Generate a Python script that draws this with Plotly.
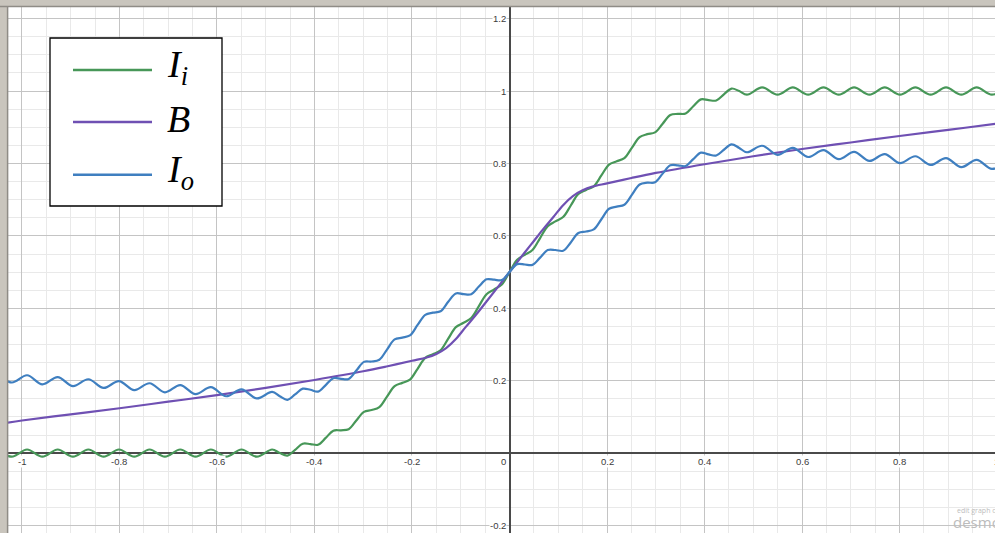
import plotly.graph_objects as go

# ---------------- data ----------------
# sample positions along x (peaks / troughs / crossings of the ripples)
x_wave = [-1.0524, -1.0210, -0.9896, -0.9582, -0.9268, -0.8954, -0.8639, -0.8325, -0.8011, -0.7697,
          -0.7383, -0.7069, -0.6754, -0.6440, -0.6126, -0.5812, -0.5498, -0.5184, -0.4869,
          -0.4712, -0.4555, -0.4398, -0.4241, -0.4084, -0.3927, -0.3770, -0.3613, -0.3456, -0.3299,
          -0.3142, -0.2985, -0.2827, -0.2670, -0.2513, -0.2356, -0.2199, -0.2042, -0.1885, -0.1728,
          -0.1571, -0.1414, -0.1257, -0.1100, -0.0942, -0.0785, -0.0628, -0.0471, -0.0314, -0.0157,
          0.0,
          0.0157, 0.0314, 0.0471, 0.0628, 0.0785, 0.0942, 0.1100, 0.1257, 0.1414, 0.1571,
          0.1728, 0.1885, 0.2042, 0.2199, 0.2356, 0.2513, 0.2670, 0.2827, 0.2985, 0.3142,
          0.3299, 0.3456, 0.3613, 0.3770, 0.3927, 0.4084, 0.4241, 0.4398, 0.4555, 0.4712,
          0.4869, 0.5184, 0.5498, 0.5812, 0.6126, 0.6440, 0.6754, 0.7069, 0.7383, 0.7697,
          0.8011, 0.8325, 0.8639, 0.8954, 0.9268, 0.9582, 0.9896, 1.0210]

I_i = [0.010, -0.010, 0.010, -0.010, 0.010, -0.010, 0.010, -0.010, 0.010, -0.010,
       0.010, -0.010, 0.010, -0.010, 0.010, -0.010, 0.010, -0.010, 0.010,
       0.000, -0.007, 0.009, 0.026, 0.025, 0.023, 0.042, 0.062, 0.063, 0.066,
       0.090, 0.114, 0.119, 0.127, 0.156, 0.185, 0.194, 0.203, 0.233, 0.263,
       0.273, 0.284, 0.316, 0.348, 0.360, 0.373, 0.406, 0.439, 0.452, 0.466,
       0.500,
       0.534, 0.548, 0.561, 0.594, 0.627, 0.640, 0.652, 0.684, 0.716, 0.727,
       0.737, 0.767, 0.797, 0.806, 0.815, 0.844, 0.873, 0.881, 0.886, 0.910,
       0.934, 0.937, 0.938, 0.958, 0.977, 0.975, 0.974, 0.991, 1.007, 1.000,
       0.990, 1.010, 0.990, 1.010, 0.990, 1.010, 0.990, 1.010, 0.990, 1.010,
       0.990, 1.010, 0.990, 1.010, 0.990, 1.010, 0.990, 1.010]

I_o = [0.220, 0.195, 0.215, 0.190, 0.210, 0.185, 0.204, 0.180, 0.199, 0.174,
       0.193, 0.168, 0.188, 0.163, 0.182, 0.157, 0.176, 0.151, 0.169,
       0.157, 0.147, 0.162, 0.178, 0.175, 0.170, 0.188, 0.207, 0.205, 0.205,
       0.228, 0.252, 0.253, 0.258, 0.286, 0.314, 0.319, 0.325, 0.354, 0.382,
       0.388, 0.392, 0.418, 0.441, 0.439, 0.439, 0.460, 0.480, 0.479, 0.478,
       0.500,
       0.522, 0.521, 0.520, 0.540, 0.561, 0.561, 0.559, 0.582, 0.608, 0.612,
       0.618, 0.646, 0.675, 0.681, 0.686, 0.714, 0.742, 0.747, 0.748, 0.772,
       0.795, 0.795, 0.793, 0.812, 0.830, 0.825, 0.822, 0.838, 0.853, 0.843,
       0.831, 0.849, 0.824, 0.843, 0.818, 0.837, 0.812, 0.832, 0.807, 0.826,
       0.801, 0.820, 0.796, 0.815, 0.790, 0.810, 0.785, 0.805]

x_B = [-1.05, -1.0, -0.9, -0.8, -0.7, -0.6, -0.5, -0.4, -0.3, -0.25, -0.2, -0.17, -0.15, -0.13,
       -0.11, -0.09, -0.07, -0.05, -0.03, -0.015, 0.0, 0.015, 0.03, 0.05, 0.07, 0.09, 0.11,
       0.13, 0.15, 0.17, 0.2, 0.25, 0.3, 0.4, 0.5, 0.6, 0.7, 0.8, 0.9, 1.0, 1.05]
B = [0.080, 0.090, 0.107, 0.124, 0.142, 0.160, 0.180, 0.202, 0.226, 0.240, 0.255, 0.264, 0.274, 0.290,
     0.315, 0.348, 0.380, 0.414, 0.448, 0.474, 0.500, 0.526, 0.552, 0.586, 0.620, 0.652, 0.685,
     0.710, 0.726, 0.736, 0.745, 0.760, 0.774, 0.798, 0.820, 0.840, 0.858, 0.876, 0.893, 0.910, 0.920]

x_tick_vals = [-1, -0.8, -0.6, -0.4, -0.2, 0.2, 0.4, 0.6, 0.8]
x_tick_text = ["-1", "-0.8", "-0.6", "-0.4", "-0.2", "0.2", "0.4", "0.6", "0.8"]
y_tick_vals = [-0.2, 0.2, 0.4, 0.6, 0.8, 1, 1.2]
y_tick_text = ["-0.2", "0.2", "0.4", "0.6", "0.8", "1", "1.2"]

legend_labels = ["<i>I<sub>i</sub></i>", "<i>B</i>", "<i>I<sub>o</sub></i>"]

# ---------------- styling ----------------
GREEN, PURPLE, BLUE = "#479758", "#6f50b3", "#3f7fc0"
W, H = 995, 533
ML, MT = 8, 7
XR = [-1.0287, 0.9959]
YR = [-0.2207, 1.2323]
PW, PH = W - ML, H - MT


def px(xp):
    return (xp - ML) / PW


def py(yp):
    return (H - yp) / PH


fig = go.Figure()
for xs, ys, col, nm in [(x_wave, I_i, GREEN, "I_i"), (x_B, B, PURPLE, "B"), (x_wave, I_o, BLUE, "I_o")]:
    fig.add_trace(go.Scatter(x=xs, y=ys, mode="lines", name=nm, showlegend=False, hoverinfo="skip",
                             line=dict(color=col, width=2.2, shape="spline", smoothing=1.0)))

axis_common = dict(showgrid=True, gridcolor="#c4c4c4", gridwidth=1, dtick=0.2, tick0=0,
                   minor=dict(dtick=0.05, tick0=0, showgrid=True, gridcolor="#e9e9e9", gridwidth=1),
                   zeroline=True, zerolinecolor="#4a4a4a", zerolinewidth=1.6,
                   showticklabels=False, ticks="", showline=False, fixedrange=True)

fig.update_layout(
    width=W, height=H,
    margin=dict(l=ML, t=MT, r=0, b=0, pad=0),
    paper_bgcolor="#c9c5bd", plot_bgcolor="white",
    xaxis=dict(range=XR, **axis_common),
    yaxis=dict(range=YR, **axis_common),
    showlegend=False,
)

annotations = []
lab_font = dict(family="Liberation Sans, Arial", size=9.5, color="#3c3c3c")
for v, t in zip(x_tick_vals, x_tick_text):
    annotations.append(dict(x=v, y=0, xref="x", yref="y", text=t, showarrow=False, font=lab_font,
                            xanchor="center", yanchor="top", yshift=-2, bgcolor="white", borderpad=0))
annotations.append(dict(x=0.99, y=0, xref="x", yref="y", text="1", showarrow=False, font=lab_font,
                        xanchor="center", yanchor="top", yshift=-2, xshift=4, bgcolor="white", borderpad=0))
annotations.append(dict(x=0, y=0, xref="x", yref="y", text="0", showarrow=False, font=lab_font,
                        xanchor="right", yanchor="top", yshift=-2, xshift=-3, bgcolor="white", borderpad=0))
for v, t in zip(y_tick_vals, y_tick_text):
    annotations.append(dict(x=0, y=v, xref="x", yref="y", text=t, showarrow=False, font=lab_font,
                            xanchor="right", yanchor="middle", xshift=-3, bgcolor="white", borderpad=0))

# legend box (drawn)
shapes = [
    dict(type="rect", xref="paper", yref="paper", x0=px(50), x1=px(222), y0=py(206), y1=py(38),
         fillcolor="white", line=dict(color="black", width=1.3), layer="above"),
]
leg_y = [70, 122, 174.7]
for yy, col, lab in zip(leg_y, [GREEN, PURPLE, BLUE], legend_labels):
    shapes.append(dict(type="line", xref="paper", yref="paper", x0=px(73), x1=px(152), y0=py(yy), y1=py(yy),
                       line=dict(color=col, width=2.5), layer="above"))
    annotations.append(dict(x=px(165), y=py(yy - 3), xref="paper", yref="paper", text=lab, showarrow=False,
                            xanchor="left", yanchor="middle",
                            font=dict(family="Liberation Serif, Times New Roman, serif", size=38, color="black")))

# screenshot frame on top / left
shapes.append(dict(type="line", xref="paper", yref="paper", x0=-0.0004, x1=-0.0004, y0=-0.01, y1=1.002,
                   line=dict(color="#8f8c86", width=1.5), layer="above"))
shapes.append(dict(type="line", xref="paper", yref="paper", x0=-0.01, x1=1.01, y0=1.001, y1=1.001,
                   line=dict(color="#8f8c86", width=1.5), layer="above"))

# watermark
annotations.append(dict(x=px(951), y=py(522), xref="paper", yref="paper", text="desmos",
                        showarrow=False, xanchor="left", yanchor="middle",
                        font=dict(family="Open Sans, Liberation Sans", size=15, color="#bcbcbc")))
annotations.append(dict(x=px(955), y=py(510.5), xref="paper", yref="paper", text="edit graph on",
                        showarrow=False, xanchor="left", yanchor="middle",
                        font=dict(family="Open Sans, Liberation Sans", size=7, color="#bdbdbd")))

fig.update_layout(shapes=shapes, annotations=annotations)

fig.write_html("out.html", config={"displayModeBar": False},
               post_script="document.body.style.margin='0';")
